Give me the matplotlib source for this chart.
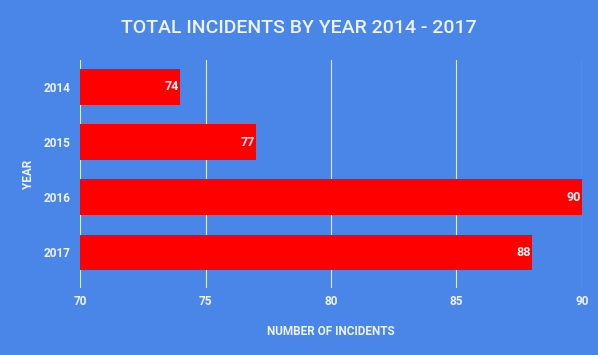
from matplotlib import pyplot as plt

years = ["2014", "2015", "2016", "2017"]
incidents = [74, 77, 90, 88]
xticks = [70, 75, 80, 85, 90]

bg = "#4a86e8"
txt = "#eef3fb"

plt.rcParams['font.family'] = ['Roboto', 'DejaVu Sans']

fig = plt.figure(figsize=(5.98, 3.55), dpi=100, facecolor=bg)
ax = fig.add_axes([0.1338, 0.189, 0.8394, 0.642])
ax.set_facecolor(bg)

pos = list(range(len(years)))
ax.barh(pos, [v - 70 for v in incidents], left=70, height=0.64, color="#ff0000")
for p, v in zip(pos, incidents):
    ax.text(v - 0.05, p, str(v), color=txt, fontsize=9, fontweight="bold",
            ha="right", va="center")

ax.set_xlim(70, 90)
ax.set_ylim(3.65, -0.49)
ax.set_xticks(xticks)
ax.set_yticks(pos)
ax.set_yticklabels(years)
ax.grid(axis="x", color="#dfe8f8", linewidth=0.8)
ax.set_axisbelow(True)
for s in ax.spines.values():
    s.set_visible(False)
ax.tick_params(length=0, colors=txt, labelsize=8.5)
for lab in ax.get_xticklabels() + ax.get_yticklabels():
    lab.set_fontweight("bold")
ax.tick_params(axis="x", pad=5)
ax.tick_params(axis="y", pad=7)

ax.set_xlabel("NUMBER OF INCIDENTS", color=txt, fontsize=8.5, fontweight="bold", labelpad=12)
ax.set_ylabel("YEAR", color=txt, fontsize=8.5, fontweight="bold", labelpad=6)
fig.text(0.5, 0.921, "TOTAL INCIDENTS BY YEAR 2014 - 2017", color=txt, fontsize=14,
         fontweight="medium", ha="center", va="center")

plt.savefig("out.png", dpi=100, facecolor=bg)
